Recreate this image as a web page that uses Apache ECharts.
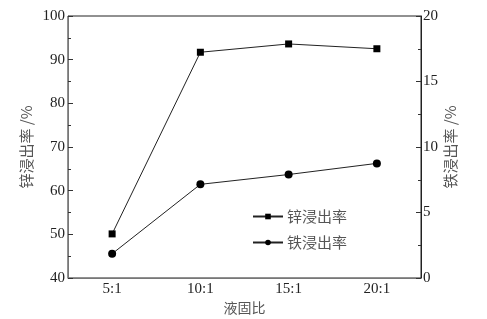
<!DOCTYPE html>
<html><head><meta charset="utf-8">
<script src="https://cdn.jsdelivr.net/npm/echarts@6/dist/echarts.min.js"></script>
<style>html,body{margin:0;padding:0;background:#fff}#c{width:487px;height:319px}</style>
</head><body><div id="c"></div>
<script>
var categories = ['5:1', '10:1', '15:1', '20:1'];
var zincValues = [50.1, 91.7, 93.6, 92.5];
var ironValues = [1.85, 7.15, 7.9, 8.75];
var zincName = '锌浸出率';
var ironName = '铁浸出率';

var serif = '"Liberation Serif", "Times New Roman", serif';
var cjk = '"Noto Sans CJK SC", sans-serif';
var chart = echarts.init(document.getElementById('c'));
chart.setOption({
  animation: false,
  backgroundColor: '#fff',
  grid: { left: 68, right: 66, top: 16, bottom: 41, outerBoundsMode: 'none', containLabel: false, show: true, borderColor: '#222', borderWidth: 1, backgroundColor: 'transparent' },
  legend: {
    left: 247, top: 204, orient: 'vertical', itemGap: 11, itemWidth: 30, itemHeight: 7,
    textStyle: { fontFamily: cjk, fontSize: 15, color: '#555', padding: [0, 0, 0, -1] },
    data: [zincName, ironName]
  },
  xAxis: [{
    type: 'category', data: categories, boundaryGap: true,
    name: '液固比', nameLocation: 'middle', nameGap: 23, nameMoveOverlap: false,
    nameTextStyle: { fontFamily: cjk, fontSize: 14, color: '#555' },
    axisLine: { lineStyle: { color: '#777', width: 1 } },
    axisTick: { alignWithLabel: true, inside: true, length: 4, lineStyle: { color: '#333' } },
    axisLabel: { fontFamily: serif, fontSize: 15, color: '#222', margin: 4 }
  }, {
    type: 'category', data: categories, boundaryGap: true, position: 'bottom',
    axisLine: { show: false },
    axisTick: { inside: true, length: 4, lineStyle: { color: '#333' } },
    axisLabel: { show: false }
  }],
  yAxis: [{
    type: 'value', min: 40, max: 100, interval: 10, position: 'left',
    name: '锌浸出率 /%', nameLocation: 'middle', nameGap: 34, nameRotate: 90, nameMoveOverlap: false,
    nameTextStyle: { fontFamily: cjk, fontSize: 15, color: '#555' },
    axisLine: { show: true, lineStyle: { color: '#777' } },
    axisTick: { show: true, inside: true, length: 5, lineStyle: { color: '#333' } },
    minorTick: { show: true, splitNumber: 2, length: 3, lineStyle: { color: '#333' } },
    splitLine: { show: false },
    axisLabel: { fontFamily: serif, fontSize: 15, color: '#222', margin: 3 }
  }, {
    type: 'value', min: 0, max: 20, interval: 5, position: 'right',
    name: '铁浸出率 /%', nameLocation: 'middle', nameGap: 22, nameRotate: 90, nameMoveOverlap: false,
    nameTextStyle: { fontFamily: cjk, fontSize: 15, color: '#555' },
    axisLine: { show: true, lineStyle: { color: '#222' } },
    axisTick: { show: true, inside: true, length: 5, lineStyle: { color: '#333' } },
    minorTick: { show: true, splitNumber: 2, length: 3, lineStyle: { color: '#333' } },
    splitLine: { show: false },
    axisLabel: { fontFamily: serif, fontSize: 15, color: '#222', margin: 2 }
  }],
  series: [{
    name: zincName, type: 'line', yAxisIndex: 0, data: zincValues,
    symbol: 'rect', symbolSize: 7,
    lineStyle: { color: '#222', width: 1 },
    itemStyle: { color: '#000' }
  }, {
    name: ironName, type: 'line', yAxisIndex: 1, data: ironValues,
    symbol: 'circle', symbolSize: 8,
    lineStyle: { color: '#222', width: 1 },
    itemStyle: { color: '#000' }
  }]
});
</script></body></html>
